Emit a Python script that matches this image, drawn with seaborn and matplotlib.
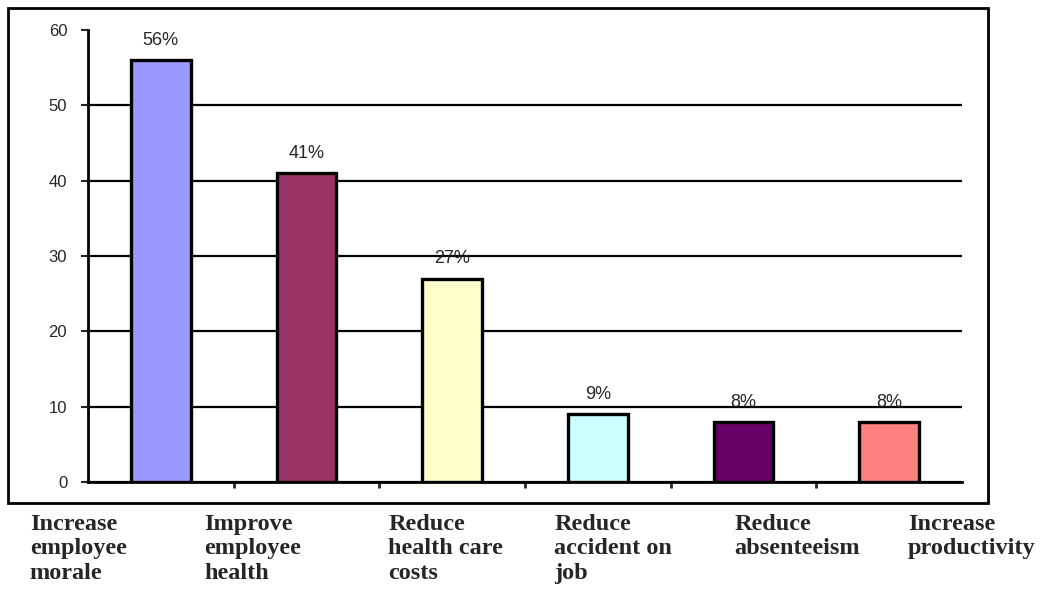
import matplotlib.pyplot as plt
import matplotlib.patches as mpatches
import seaborn as sns
import pandas as pd

categories = ["Increase\nemployee\nmorale", "Improve\nemployee\nhealth",
              "Reduce\nhealth care\ncosts", "Reduce\naccident on\njob",
              "Reduce\nabsenteeism", "Increase\nproductivity"]
values = [56, 41, 27, 9, 8, 8]
pct_labels = ["56%", "41%", "27%", "9%", "8%", "8%"]
colors = ["#9999FF", "#993366", "#FFFFCC", "#CCFFFF", "#660066", "#FF8080"]

df = pd.DataFrame({"cat": categories, "val": values})

sns.set_style("white")
plt.rcParams["font.family"] = ["Liberation Sans", "DejaVu Sans"]

fig = plt.figure(figsize=(10.64, 5.93), dpi=100)
ax = fig.add_axes([0.0827, 0.1872, 0.8214, 0.7622])

sns.barplot(data=df, x="cat", y="val", hue="cat", palette=colors, legend=False,
            width=0.41, edgecolor="black", linewidth=2.4, saturation=1, ax=ax)

ax.set_ylim(0, 60)
ax.set_xlim(-0.5, len(categories) - 0.5)
ax.set_yticks(range(0, 61, 10))
ax.tick_params(axis="y", length=5, width=1.5, pad=10, labelsize=12, direction="out", left=True)
ax.set_xticks([])
ax.set_xticks([i + 0.5 for i in range(len(categories) - 1)], minor=True)
ax.tick_params(axis="x", which="minor", length=4, width=2, direction="out", bottom=True)
ax.set_xlabel("")
ax.set_ylabel("")

ax.yaxis.grid(True, color="black", linewidth=1.6)
ax.set_axisbelow(True)
ax.yaxis.get_gridlines()[-1].set_visible(False)

for s in ["top", "right"]:
    ax.spines[s].set_visible(False)
for s in ["left", "bottom"]:
    ax.spines[s].set_color("black")
    ax.spines[s].set_linewidth(2)

for bar, lab in zip(ax.patches, pct_labels):
    ax.annotate(lab, (bar.get_x() + bar.get_width() / 2, bar.get_height()),
                xytext=(0, 8), textcoords="offset points",
                ha="center", va="bottom", fontsize=13)

# category text placed like the original (left-aligned blocks under the axis)
label_offsets = [-0.9, -0.7, -0.44, -0.3, -0.06, 0.13]
for i, (cat, off) in enumerate(zip(categories, label_offsets)):
    ax.text(i + off, -0.07, cat, transform=ax.get_xaxis_transform(),
            ha="left", va="top", fontsize=17.5, fontweight="bold",
            family=["Liberation Serif", "DejaVu Serif"], linespacing=1.22)

frame = mpatches.Rectangle((8 / 1064, 1 - 503 / 593), 980 / 1064, 495 / 593,
                           transform=fig.transFigure, fill=False,
                           edgecolor="black", linewidth=2)
fig.patches.append(frame)

fig.savefig("out.png", dpi=100)
